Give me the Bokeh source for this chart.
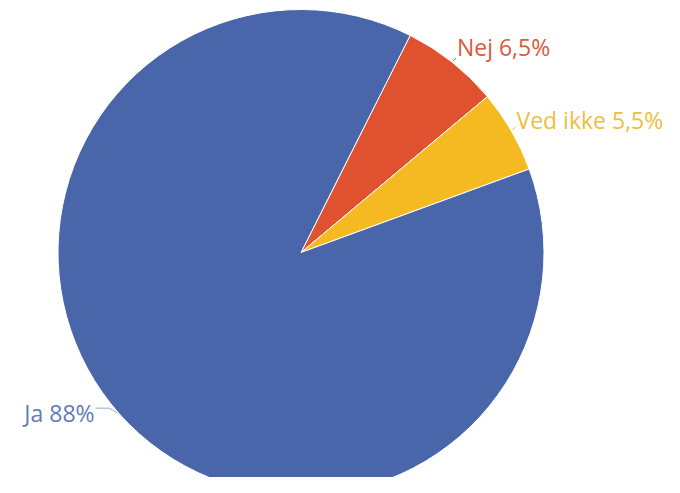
import numpy as np
from bokeh.plotting import figure
from bokeh.models import Range1d
from bokeh.embed import file_html
from bokeh.resources import INLINE
from bokeh.core.properties import value

labels = ["Nej", "Ved ikke", "Ja"]
label_texts = ["Nej 6,5%", "Ved ikke 5,5%", "Ja 88%"]
shares = [6.5, 5.5, 88.0]
colors = ["#E0522F", "#F5BA22", "#4A66AA"]
text_colors = ["#D95A3C", "#EEBE3C", "#5E7BBB"]

W, H = 664, 477
p = figure(width=W, height=H, output_backend="svg", toolbar_location=None,
           x_range=Range1d(0, W), y_range=Range1d(-H, 0),
           min_border=0)
p.axis.visible = False
p.grid.visible = False
p.outline_line_color = None
p.background_fill_color = "white"

cx, cy, R = 300.5, -252.0, 243.0
start_cw = 26.7  # degrees clockwise from top where first slice begins
fr = np.array(shares) / sum(shares)
cw_start = start_cw + np.concatenate([[0], np.cumsum(fr)[:-1]]) * 360
cw_end = cw_start + fr * 360
start_ang = np.radians(90 - cw_end)
end_ang = np.radians(90 - cw_start)

p.wedge(x=cx, y=cy, radius=R, start_angle=start_ang, end_angle=end_ang,
        fill_color=colors, line_color="white", line_width=1)

mid = np.radians((cw_start + cw_end) / 2)
ex = cx + R * np.sin(mid)
ey = cy + R * np.cos(mid)

font = value("Open Sans")
size = "23px"
for i in range(3):
    if labels[i] == "Ja":
        xs = [ex[i] - 2, ex[i] - 10, ex[i] - 24]
        ys = [ey[i] + 1, ey[i] + 6, ey[i] + 6]
        p.line(xs, ys, line_color="#9AA6C4", line_width=1)
        p.text(x=[xs[-1] - 1], y=[ys[-1] - 5], text=[label_texts[i]],
               text_color=text_colors[i], text_font=font,
               text_font_size=size, text_align="right", text_baseline="middle")
    else:
        xs = [ex[i] + 1, ex[i] + 4]
        ys = [ey[i] + 1, ey[i] + 4]
        p.line(xs, ys, line_color=colors[i], line_width=1)
        p.text(x=[xs[-1] + 1], y=[ys[-1] + 11 if labels[i] == "Nej" else ys[-1] + 7],
               text=[label_texts[i]], text_color=text_colors[i],
               text_font=font, text_font_size=size,
               text_align="left", text_baseline="middle")

open("out.html", "w").write(file_html(p, INLINE))
